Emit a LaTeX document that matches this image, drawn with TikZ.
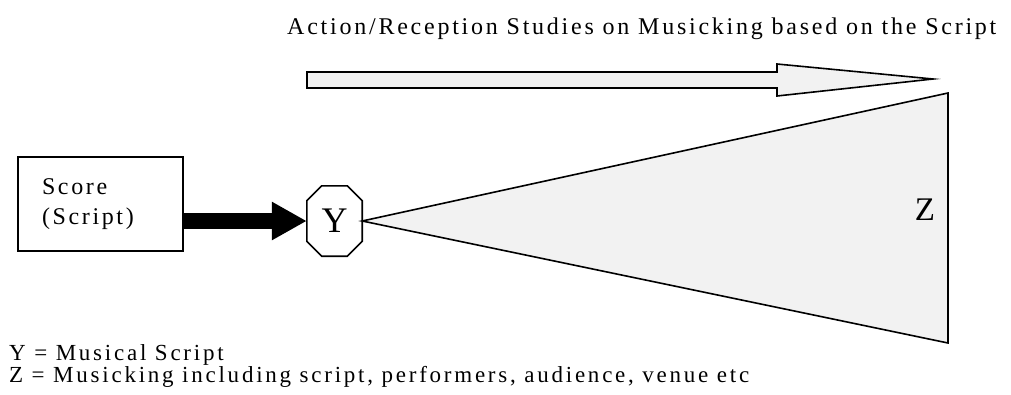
\documentclass[tikz,border=0pt]{standalone}
\usepackage{fontspec}
\setmainfont{Liberation Serif}
\usetikzlibrary{arrows.meta}

\tikzset{
  outline/.style={draw=black, line width=1.6pt},
  lighttone/.style={fill=black!5},
  caption/.style={font=\fontsize{23}{26}\selectfont\addfontfeature{LetterSpace=12}, inner sep=0pt},
}

\begin{document}
\begin{tikzpicture}[x=1pt, y=-1pt]
\useasboundingbox (0,0) rectangle (1011,394);

% heading
\node[font=\fontsize{24}{28}\selectfont\addfontfeature{LetterSpace=11.5}, inner sep=0pt,
      anchor=base west] (title) at (287,34)
  {Action/Reception Studies on Musicking based on the Script};

% hollow direction arrow
\draw[outline, lighttone, line join=miter]
  (307,72) -- (777,72) -- (777,64) -- (933,79) -- (777,96) -- (777,88) -- (307,88) -- cycle;

% score box
\node[outline, minimum width=165pt, minimum height=94pt, inner xsep=24pt,
      text width=117pt, align=left,
      font=\fontsize{24}{30}\selectfont\addfontfeature{LetterSpace=11}]
  (score) at (100.5,204) {Score\\(Script)};

% Y node (octagon)
\node[minimum width=55pt, minimum height=70pt, inner sep=0pt,
      font=\fontsize{36}{40}\selectfont] (Y) at (334.5,221) {Y};
\draw[outline, line join=miter]
  ([xshift=15pt]Y.north west) -- ([xshift=-15pt]Y.north east)
  -- ([yshift=-15pt]Y.north east) -- ([yshift=15pt]Y.south east)
  -- ([xshift=-15pt]Y.south east) -- ([xshift=15pt]Y.south west)
  -- ([yshift=15pt]Y.south west) -- ([yshift=-15pt]Y.north west) -- cycle;

% musicking wedge
\coordinate (ztop) at (948,93);
\coordinate (zbot) at (948,343);
\draw[outline, lighttone, line join=miter] (Y.east) -- (ztop) -- (zbot) -- cycle;
\node[font=\fontsize{33}{40}\selectfont, inner sep=0pt] (Z) at (925,210) {Z};

% thick connector from score to Y
\draw[line width=16pt, -{Triangle[length=35pt, width=36pt]}]
  (score.east |- Y.west) -- (Y.west);

% legend
\node[caption, anchor=base west] (legY) at (9,360) {Y = Musical Script};
\node[caption, anchor=base west] (legZ) at (9,382)
  {Z = Musicking including script, performers, audience, venue etc};
\end{tikzpicture}
\end{document}
